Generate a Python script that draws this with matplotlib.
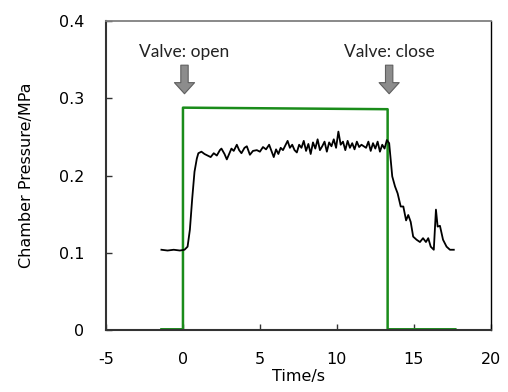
import matplotlib
matplotlib.use("Agg")
import matplotlib.pyplot as plt

plt.rcParams["axes.unicode_minus"] = False
plt.rcParams["font.family"] = "DejaVu Sans"

# measured chamber pressure (black trace)
time_s = [
    -1.4, -1.0, -0.6, -0.2, 0.1, 0.3, 0.45, 0.6, 0.75, 0.9,
    1.0, 1.2, 1.4, 1.6, 1.8, 2.0, 2.2, 2.4, 2.5, 2.7,
    2.85, 3.0, 3.15, 3.3, 3.5, 3.65, 3.8, 4.0, 4.15, 4.35,
    4.55, 4.8, 5.0, 5.2, 5.4, 5.6, 5.75, 5.9, 6.05, 6.2,
    6.35, 6.5, 6.65, 6.8, 6.95, 7.1, 7.25, 7.4, 7.55, 7.7,
    7.85, 8.0, 8.15, 8.3, 8.45, 8.6, 8.75, 8.9, 9.05, 9.2,
    9.35, 9.5, 9.65, 9.8, 9.95, 10.1, 10.25, 10.4, 10.55, 10.7,
    10.85, 11.0, 11.15, 11.3, 11.45, 11.6, 11.75, 11.9, 12.05, 12.2,
    12.35, 12.5, 12.65, 12.8, 12.95, 13.1, 13.25, 13.4, 13.6, 13.78,
    13.95, 14.15, 14.32, 14.5, 14.64, 14.8, 14.96, 15.18, 15.4, 15.6,
    15.79, 15.94, 16.1, 16.3, 16.44, 16.55, 16.7, 16.9, 17.13, 17.35,
    17.6,
]
pressure_mpa = [
    0.104, 0.103, 0.104, 0.103, 0.104, 0.108, 0.130, 0.170, 0.205, 0.222,
    0.229, 0.231, 0.228, 0.226, 0.224, 0.229, 0.226, 0.233, 0.235, 0.228,
    0.221, 0.228, 0.235, 0.232, 0.240, 0.233, 0.229, 0.236, 0.238, 0.227,
    0.232, 0.233, 0.231, 0.237, 0.234, 0.240, 0.232, 0.224, 0.234, 0.228,
    0.236, 0.233, 0.239, 0.245, 0.236, 0.240, 0.233, 0.230, 0.240, 0.236,
    0.245, 0.232, 0.241, 0.228, 0.243, 0.235, 0.247, 0.233, 0.238, 0.244,
    0.231, 0.243, 0.238, 0.247, 0.236, 0.257, 0.240, 0.244, 0.233, 0.245,
    0.236, 0.242, 0.234, 0.244, 0.237, 0.240, 0.238, 0.236, 0.244, 0.232,
    0.242, 0.235, 0.244, 0.231, 0.240, 0.235, 0.246, 0.242, 0.199, 0.186,
    0.177, 0.160, 0.160, 0.142, 0.149, 0.140, 0.121, 0.117, 0.114, 0.119,
    0.114, 0.119, 0.108, 0.104, 0.156, 0.134, 0.135, 0.117, 0.108, 0.104,
    0.104,
]

# valve signal (green step)
valve_time = [-1.4, 0.0, 0.0, 13.3, 13.3, 17.7]
valve_level = [0.001, 0.001, 0.288, 0.286, 0.001, 0.001]

# annotations: label, arrow x
annotations = [("Valve: open", 0.1), ("Valve: close", 13.4)]
arrow_top = 0.343
arrow_tip = 0.306
label_y = 0.36

fig = plt.figure(figsize=(5.08, 3.92), dpi=100)
ax = fig.add_axes([0.2087, 0.158, 0.7573, 0.788])

ax.plot(valve_time, valve_level, color="#1a8c1a", lw=1.8, zorder=2)
ax.plot(time_s, pressure_mpa, color="black", lw=1.3, zorder=3)

for label, x in annotations:
    ax.annotate("", xy=(x, arrow_tip), xytext=(x, arrow_top),
                arrowprops=dict(width=5.3, headwidth=14.5, headlength=8,
                                facecolor="#8c8c8c", edgecolor="#5f5f5f",
                                lw=0.8, shrink=0))
    ax.text(x, label_y, label, ha="center", va="center",
            fontsize=12.5, family="Lato", color="#222222")

ax.set_xlim(-5, 20)
ax.set_ylim(0, 0.4)
ax.set_xticks([-5, 0, 5, 10, 15, 20])
ax.set_xticklabels(["-5", "0", "5", "10", "15", "20"])
ax.set_yticks([0, 0.1, 0.2, 0.3, 0.4])
ax.set_yticklabels(["0", "0.1", "0.2", "0.3", "0.4"])
ax.tick_params(direction="in", length=4.3, width=1, colors="#333333",
               labelcolor="black", labelsize=11.5)
ax.tick_params(axis="y", pad=15.5)
ax.tick_params(axis="x", pad=16)

for side in ("left", "bottom"):
    ax.spines[side].set_color("#333333")
    ax.spines[side].set_linewidth(1.5)
ax.spines["top"].set_color("#808080")
ax.spines["top"].set_linewidth(1.3)
ax.spines["right"].set_color("black")
ax.spines["right"].set_linewidth(1.0)

ax.set_xlabel("Time/s", fontsize=11.5, labelpad=1)
ax.set_ylabel("Chamber Pressure/MPa", fontsize=11.5, labelpad=18)

fig.savefig("out.png", dpi=100)
